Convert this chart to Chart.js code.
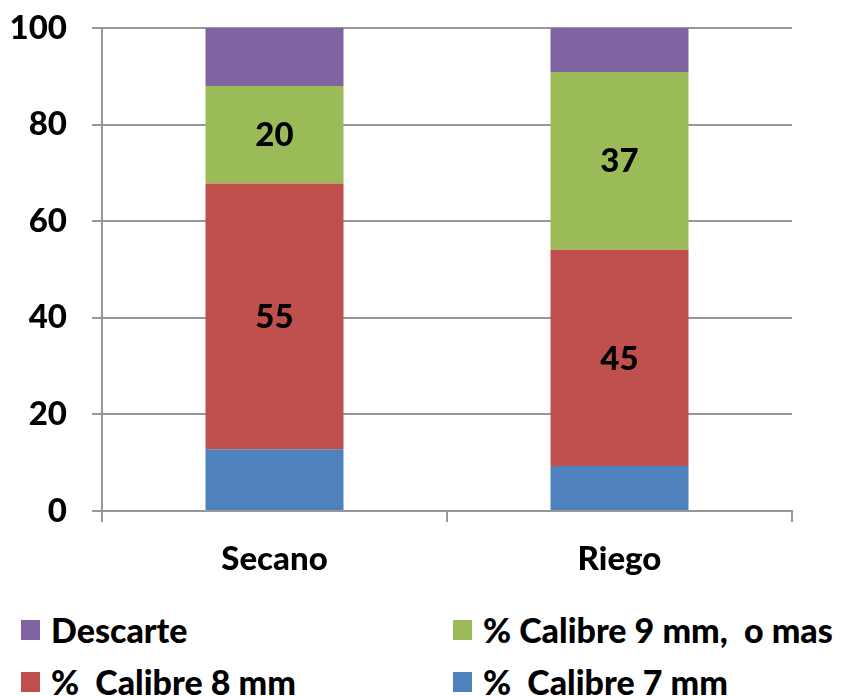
<!DOCTYPE html>
<html>
<head>
<meta charset="utf-8">
<script src="https://cdn.jsdelivr.net/npm/chart.js@4/dist/chart.umd.min.js"></script>
<style>
  body { margin: 0; background: #fff; }
  #wrap { position: relative; width: 846px; height: 696px; }
  #chart { position: absolute; left: 0; top: 0; }
  .legend-item { position: absolute; display: flex; align-items: center;
    font-family: Lato, "Open Sans", sans-serif; font-weight: 900; font-size: 34px;
    color: #000; white-space: pre; line-height: 1; }
  .legend-item span.box { display: inline-block; width: 19px; height: 20px; margin-right: 11px; }
</style>
</head>
<body>
<div id="wrap">
  <canvas id="chart" width="846" height="600"></canvas>
  <div id="legend"></div>
</div>
<script>
// chart data
const categories = ['Secano', 'Riego'];
const seriesNames = ['%  Calibre 7 mm', '%  Calibre 8 mm', '% Calibre 9 mm,  o mas', 'Descarte'];
const calibre7 = [12.8, 9.3];
const calibre8 = [55.0, 44.8];
const calibre9 = [20.2, 36.8];
const descarte = [12.0, 9.1];
const seriesColors = ['#4F81BD', '#C0504D', '#9BBB59', '#8064A2'];
const yTicks = [0, 20, 40, 60, 80, 100];
const labeledSeries = ['%  Calibre 8 mm', '% Calibre 9 mm,  o mas'];

const FONT = { family: 'Lato, "Open Sans", sans-serif', size: 33, weight: '900' };
const GRID = '#979797';

// values inside the red and green segments
const segmentLabels = {
    id: 'segmentLabels',
    afterDatasetsDraw(chart) {
        const ctx = chart.ctx;
        ctx.save();
        ctx.font = `${FONT.weight} ${FONT.size}px ${FONT.family}`;
        ctx.fillStyle = '#000';
        ctx.textAlign = 'center';
        ctx.textBaseline = 'middle';
        chart.data.datasets.forEach((ds, i) => {
            if (!labeledSeries.includes(ds.label)) return;
            chart.getDatasetMeta(i).data.forEach((bar, j) => {
                const y = (bar.y + bar.base) / 2;
                ctx.fillText(String(Math.round(ds.data[j])), bar.x, y + 1);
            });
        });
        ctx.restore();
    }
};

const allSeries = [calibre7, calibre8, calibre9, descarte];

const chart = new Chart(document.getElementById('chart'), {
    type: 'bar',
    data: {
        labels: categories,
        datasets: allSeries.map((values, i) => ({
            label: seriesNames[i],
            data: values,
            backgroundColor: seriesColors[i],
            borderWidth: 0,
            barPercentage: 0.4,
            categoryPercentage: 1.0
        }))
    },
    options: {
        responsive: false,
        animation: false,
        layout: { padding: { top: 28, right: 54, left: 0, bottom: 0 } },
        plugins: {
            legend: { display: false },
            tooltip: { enabled: false }
        },
        scales: {
            x: {
                stacked: true,
                offset: true,
                grid: { display: true, drawOnChartArea: false, drawTicks: true, tickLength: 11, color: GRID, lineWidth: 2, offset: true },
                border: { display: true, color: GRID, width: 2 },
                ticks: { color: '#000', font: FONT, padding: 18 },
                afterFit(scale) {
                    scale.height = 89;
                    scale.paddingLeft = 0;
                    scale.paddingRight = 0;
                }
            },
            y: {
                stacked: true,
                min: 0,
                max: 100,
                afterBuildTicks(scale) { scale.ticks = yTicks.map(v => ({ value: v })); },
                grid: { color: GRID, lineWidth: 2, tickLength: 10 },
                border: { display: true, color: GRID, width: 2 },
                ticks: { color: '#000', font: FONT, padding: 25 },
                afterFit(scale) {
                    scale.width = 102;
                    scale.paddingTop = 0;
                    scale.paddingBottom = 0;
                }
            }
        }
    },
    plugins: [segmentLabels]
});

// legend in two columns, same order as the original (reverse of stacking)
const legendPos = [
    { left: 21, top: 630 }, { left: 453, top: 630 },
    { left: 21, top: 682 }, { left: 453, top: 682 }
];
const legendDiv = document.getElementById('legend');
chart.data.datasets.slice().reverse().forEach((ds, i) => {
    const item = document.createElement('div');
    item.className = 'legend-item';
    item.style.left = legendPos[i].left + 'px';
    item.style.top = (legendPos[i].top - 17) + 'px';
    item.innerHTML = `<span class="box" style="background:${ds.backgroundColor}"></span>${ds.label}`;
    legendDiv.appendChild(item);
});
</script>
</body>
</html>
